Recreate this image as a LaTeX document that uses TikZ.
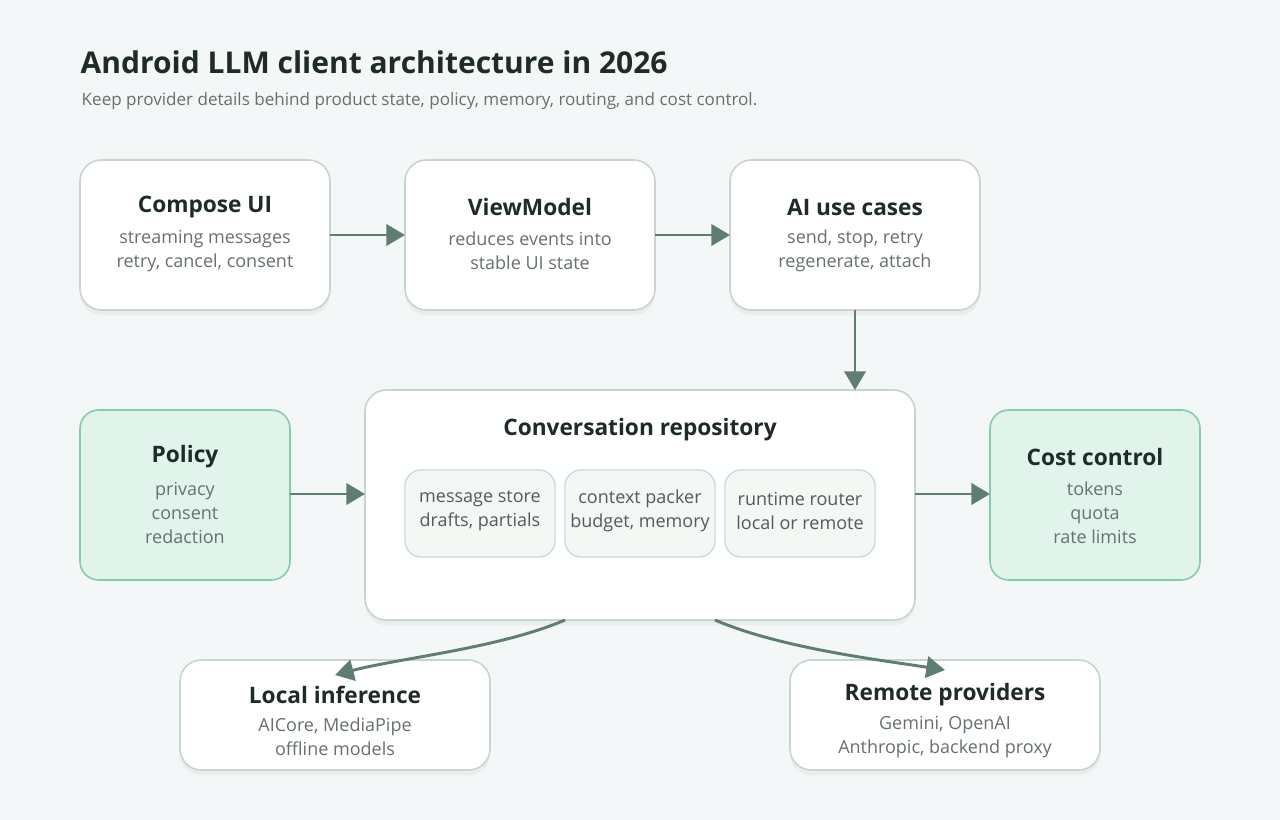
\documentclass[tikz,border=0pt]{standalone}
\usepackage{fontspec}
\setmainfont{Open Sans}
\usetikzlibrary{arrows.meta,shadows}
\definecolor{bg}{HTML}{F3F7F8}
\definecolor{txt}{HTML}{1E2B27}
\definecolor{sub}{HTML}{66716D}
\definecolor{edge}{HTML}{C9D3CF}
\definecolor{gfill}{HTML}{E1F4EC}
\definecolor{gedge}{HTML}{86CCAA}
\definecolor{ifill}{HTML}{F3F8F5}
\definecolor{iedge}{HTML}{C6DED2}
\definecolor{arr}{HTML}{5E7E73}
\begin{document}
\begin{tikzpicture}[x=0.75pt,y=-0.75pt,
 box/.style={draw=edge,line width=1.2pt,fill=white,rounded corners=16pt,drop shadow={opacity=0.08,shadow xshift=0pt,shadow yshift=-4pt}},
 gbox/.style={draw=gedge,line width=1.2pt,fill=gfill,rounded corners=14pt},
 ibox/.style={draw=iedge,line width=1pt,fill=ifill,rounded corners=12pt},
 ttl/.style={font=\bfseries\fontsize{17}{20}\selectfont,text=txt},
 body/.style={font=\fontsize{13.5}{18}\selectfont,text=sub,align=center},
 ar/.style={draw=arr,line width=2.2pt,-{Triangle[length=14pt,width=16pt]}}]
\fill[bg] (0,0) rectangle (1280,820);
\useasboundingbox (0,0) rectangle (1280,820);
\node[anchor=west,font=\bfseries\fontsize{22.5}{26}\selectfont,text=txt] (title) at (76,62) {Android LLM client architecture in 2026};
\node[anchor=west,font=\fontsize{12.8}{14}\selectfont,text=sub] (subt) at (77,101) {Keep provider details behind product state, policy, memory, routing, and cost control.};
% top row
\path[box] (80,160) rectangle (330,310);
\path[box] (405,160) rectangle (655,310);
\path[box] (730,160) rectangle (980,310);
\node[ttl] (cut) at (205,207) {Compose UI};
\node[body] (cub) at (205,251) {streaming messages\\retry, cancel, consent};
\node[ttl] (vmt) at (530,207) {ViewModel};
\node[body] (vmb) at (530,251) {reduces events into\\stable UI state};
\node[ttl] (ait) at (855,207) {AI use cases};
\node[body] (aib) at (855,251) {send, stop, retry\\regenerate, attach};
% middle
\path[gbox] (80,410) rectangle (290,580);
\path[box] (365,390) rectangle (915,620);
\path[gbox] (990,410) rectangle (1200,580);
\node[ttl] (pt) at (185,457) {Policy};
\node[body] (pb) at (185,513) {privacy\\consent\\redaction};
\node[ttl] (cct) at (1095,457) {Cost control};
\node[body] (ccb) at (1095,513) {tokens\\quota\\rate limits};
\node[ttl] (crt) at (640,430) {Conversation repository};
\path[ibox] (405,470) rectangle (555,557);
\path[ibox] (565,470) rectangle (715,557);
\path[ibox] (725,470) rectangle (875,557);
\node[body,text=sub!80!black] (i1) at (480,511) {message store\\drafts, partials};
\node[body,text=sub!80!black] (i2) at (640,511) {context packer\\budget, memory};
\node[body,text=sub!80!black] (i3) at (800,511) {runtime router\\local or remote};
% bottom
\path[box] (180,660) rectangle (490,770);
\path[box] (790,660) rectangle (1100,770);
\node[ttl] (lit) at (335,695) {Local inference};
\node[body] (lib) at (335,737) {AICore, MediaPipe\\offline models};
\node[ttl] (rpt) at (945,695) {Remote providers};
\node[body] (rpb) at (945,737) {Gemini, OpenAI\\Anthropic, backend proxy};
% anchors
\coordinate (a1) at (330,235); \coordinate (a2) at (405,235);
\coordinate (a3) at (655,235); \coordinate (a4) at (730,235);
\coordinate (a5) at (855,310); \coordinate (a6) at (855,390);
\coordinate (a7) at (290,494); \coordinate (a8) at (365,494);
\coordinate (a9) at (915,494); \coordinate (a10) at (990,494);
\coordinate (b1) at (565,620); \coordinate (b2) at (335,675);
\coordinate (b3) at (715,620); \coordinate (b4) at (945,670);
\draw[ar] (a1) -- (a2);
\draw[ar] (a3) -- (a4);
\draw[ar] (a5) -- (a6);
\draw[ar] (a7) -- (a8);
\draw[ar] (a9) -- (a10);
\draw[ar] (b1) .. controls (500,648) and (400,658) .. (b2);
\draw[ar] (b3) .. controls (780,648) and (880,660) .. (b4);
\end{tikzpicture}
\end{document}
